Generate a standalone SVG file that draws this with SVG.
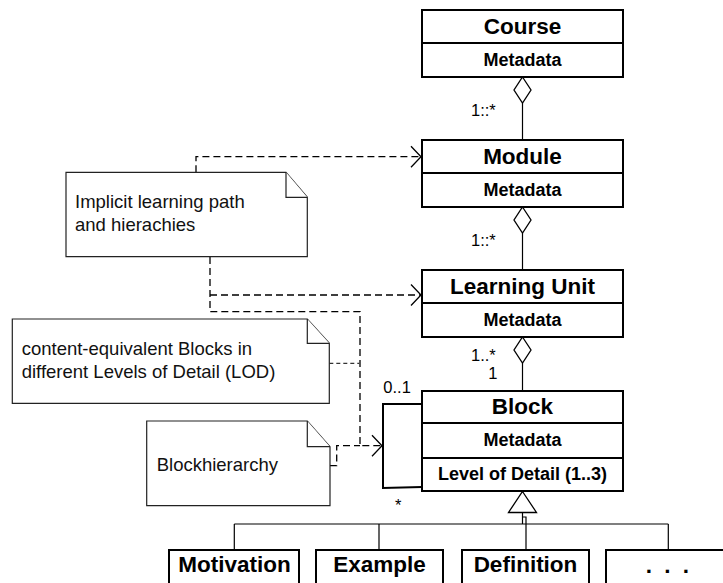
<svg xmlns="http://www.w3.org/2000/svg" width="723" height="583" viewBox="0 0 723 583">
<style>
.box{fill:#fff;stroke:#000;stroke-width:2}
.sep{stroke:#000;stroke-width:2}
.t{font-family:"Liberation Sans",Arial,sans-serif;font-weight:bold;font-size:22.5px;text-anchor:middle;fill:#000}
.m{font-family:"Liberation Sans",Arial,sans-serif;font-weight:bold;font-size:18px;text-anchor:middle;fill:#000}
.note{fill:#fff;stroke:#222;stroke-width:1.2}
.nt{font-family:"Liberation Sans",Arial,sans-serif;font-size:18.5px;fill:#111}
.line{fill:none;stroke:#000;stroke-width:1.2}
.thick{fill:none;stroke:#000;stroke-width:2}
.dash{fill:none;stroke:#000;stroke-width:1.3;stroke-dasharray:7 4}
.dot{fill:none;stroke:#333;stroke-width:1.2;stroke-dasharray:4 3}
.dia{fill:#fff;stroke:#000;stroke-width:1.3}
.lbl{font-family:"Liberation Sans",Arial,sans-serif;font-size:16.5px;fill:#000}
</style>
<defs>
<marker id="open" markerUnits="userSpaceOnUse" markerWidth="14" markerHeight="24" refX="11" refY="11.5" orient="auto">
<path d="M1,1 L11,11.5 L1,22" fill="none" stroke="#000" stroke-width="1.3"/>
</marker>
</defs>

<g id="connectors">
<line class="line" x1="522.5" y1="103" x2="522.5" y2="140"/>
<polygon class="dia" points="522.5,77 531,90 522.5,103 514,90"/>
<line class="line" x1="522.5" y1="233" x2="522.5" y2="270"/>
<polygon class="dia" points="522.5,207 531,220 522.5,233 514,220"/>
<line class="line" x1="522.5" y1="363" x2="522.5" y2="391"/>
<polygon class="dia" points="522.5,337 531,350 522.5,363 514,350"/>
<path class="thick" d="M422,404 H383 V488 L422,487"/>
<path class="dash" d="M196,172.3 V156.7 H421" marker-end="url(#open)"/>
<path class="dash" d="M210,257 V311.7 H360 V445.7 H382" marker-end="url(#open)"/>
<path class="dash" d="M210,295 H421" marker-end="url(#open)"/>
<path class="dash" d="M330,465.7 H336.7 V445.7 H360"/>
<path class="dot" d="M329.3,363.3 H359.3"/>
<polygon class="dia" points="522.5,491.5 536.5,512.5 508.5,512.5"/>
<path class="line" d="M522.5,512.5 V524 M234.3,524 H668.3 M234.3,524 V550 M379,524 V550 M668.3,524 V550 M522.5,517 H526 V550"/>
<text class="lbl" x="471" y="116">1::*</text>
<text class="lbl" x="471" y="246">1::*</text>
<text class="lbl" x="471" y="361">1..*</text>
<text class="lbl" x="488.3" y="379">1</text>
<text class="lbl" x="383.3" y="392.7">0..1</text>
<text class="lbl" x="395" y="511">*</text>
</g>

<g id="course">
<rect class="box" x="422" y="10" width="201" height="67"/>
<line class="sep" x1="422" y1="43" x2="623" y2="43"/>
<text class="t" x="522.5" y="33.5">Course</text>
<text class="m" x="522.5" y="66">Metadata</text>
</g>
<g id="module">
<rect class="box" x="422" y="140" width="201" height="67"/>
<line class="sep" x1="422" y1="173" x2="623" y2="173"/>
<text class="t" x="522.5" y="163.5">Module</text>
<text class="m" x="522.5" y="196">Metadata</text>
</g>
<g id="learning-unit">
<rect class="box" x="422" y="270" width="201" height="67"/>
<line class="sep" x1="422" y1="303" x2="623" y2="303"/>
<text class="t" x="522.5" y="293.5">Learning Unit</text>
<text class="m" x="522.5" y="326">Metadata</text>
</g>
<g id="block">
<rect class="box" x="422" y="391" width="201" height="100"/>
<line class="sep" x1="422" y1="423" x2="623" y2="423"/>
<line class="sep" x1="422" y1="458" x2="623" y2="458"/>
<text class="t" x="522.5" y="413.5">Block</text>
<text class="m" x="522.5" y="446">Metadata</text>
<text class="m" x="522.5" y="479.5">Level of Detail (1..3)</text>
</g>
<g id="motivation">
<rect class="box" x="169" y="550" width="130" height="50"/>
<text class="t" x="234.5" y="572">Motivation</text>
</g>
<g id="example">
<rect class="box" x="316" y="550" width="127" height="50"/>
<text class="t" x="379.5" y="572">Example</text>
</g>
<g id="definition">
<rect class="box" x="462" y="550" width="127" height="50"/>
<text class="t" x="525.5" y="572">Definition</text>
</g>
<g id="more">
<rect class="box" x="606" y="550" width="130" height="50"/>
<text class="t" x="669" y="573" style="letter-spacing:3px">. . .</text>
</g>

<g id="note-implicit">
<path class="note" d="M66,172.3 H286 L307.3,197.3 V256.7 H66 Z"/>
<path class="note" d="M286,172.3 V197.3 H307.3"/>
<text class="nt" x="75" y="208.3">Implicit learning path</text>
<text class="nt" x="75" y="230.7">and hierachies</text>
</g>
<g id="note-lod">
<path class="note" d="M12.3,319 H307.3 L329.3,343.3 V403.3 H12.3 Z"/>
<path class="note" d="M307.3,319 V343.3 H329.3"/>
<text class="nt" x="21.7" y="355">content-equivalent Blocks in</text>
<text class="nt" x="21.7" y="378.3">different Levels of Detail (LOD)</text>
</g>
<g id="note-blockhierarchy">
<path class="note" d="M146.7,421 H307.3 L330,446.7 V505.7 H146.7 Z"/>
<path class="note" d="M307.3,421 V446.7 H330"/>
<text class="nt" x="156.7" y="470.7">Blockhierarchy</text>
</g>
</svg>
